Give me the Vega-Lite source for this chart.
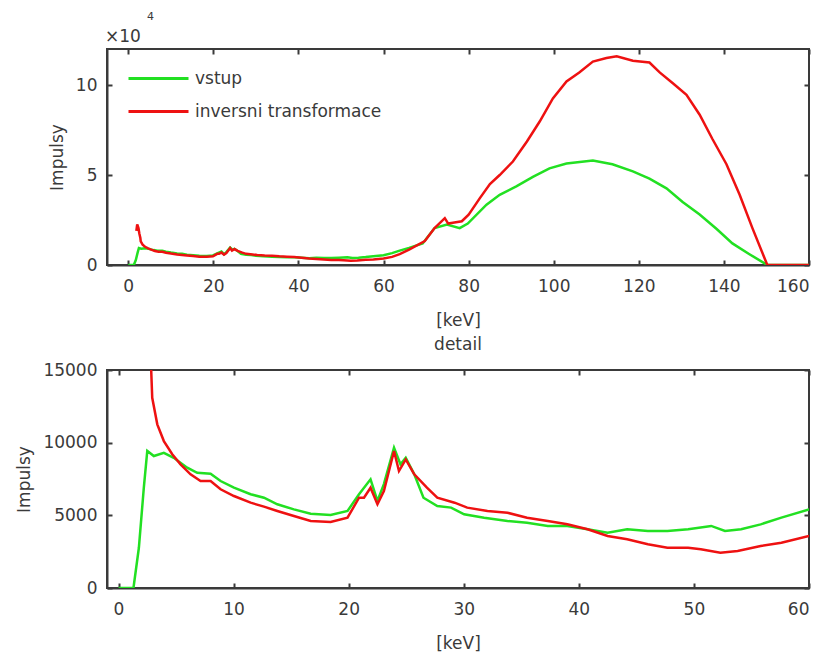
{
  "$schema": "https://vega.github.io/schema/vega-lite/v6.json",
  "background": "white",
  "padding": {"left": 14, "top": 10, "right": 0, "bottom": 0},
  "config": {
    "font": "DejaVu Sans",
    "view": {"stroke": "#3a3a3a", "strokeWidth": 2},
    "axis": {
      "labelFont": "DejaVu Sans", "labelFontSize": 17, "labelColor": "#3a3a3a",
      "titleFont": "DejaVu Sans", "titleFontSize": 17, "titleFontWeight": "normal", "titleColor": "#3a3a3a",
      "domainColor": "#3a3a3a", "domainWidth": 2, "tickColor": "#3a3a3a", "tickWidth": 2, "tickSize": -5,
      "grid": false
    },
    "axisX": {"labelPadding": 18, "titlePadding": 18},
    "axisY": {"labelPadding": 15, "titlePadding": 9},
    "title": {"font": "DejaVu Sans", "fontWeight": "normal", "color": "#3a3a3a"}
  },
  "datasets": {
    "spectra": [
      {"keV": 0, "series": "vstup", "counts": 0},
      {"keV": 1.3, "series": "vstup", "counts": 0},
      {"keV": 1.77, "series": "vstup", "counts": 2770},
      {"keV": 2.2, "series": "vstup", "counts": 6900},
      {"keV": 2.5, "series": "vstup", "counts": 9430},
      {"keV": 3.07, "series": "vstup", "counts": 9080},
      {"keV": 3.94, "series": "vstup", "counts": 9300},
      {"keV": 4.8, "series": "vstup", "counts": 8960},
      {"keV": 5.97, "series": "vstup", "counts": 8280},
      {"keV": 6.84, "series": "vstup", "counts": 7930},
      {"keV": 8.0, "series": "vstup", "counts": 7860},
      {"keV": 8.87, "series": "vstup", "counts": 7360},
      {"keV": 10.03, "series": "vstup", "counts": 6900},
      {"keV": 11.48, "series": "vstup", "counts": 6450},
      {"keV": 12.64, "series": "vstup", "counts": 6210},
      {"keV": 13.8, "series": "vstup", "counts": 5760},
      {"keV": 15.24, "series": "vstup", "counts": 5410},
      {"keV": 16.7, "series": "vstup", "counts": 5110},
      {"keV": 18.43, "series": "vstup", "counts": 5020},
      {"keV": 19.9, "series": "vstup", "counts": 5300},
      {"keV": 20.9, "series": "vstup", "counts": 6450},
      {"keV": 21.9, "series": "vstup", "counts": 7480},
      {"keV": 22.5, "series": "vstup", "counts": 5990},
      {"keV": 23.06, "series": "vstup", "counts": 7150},
      {"keV": 23.94, "series": "vstup", "counts": 9650},
      {"keV": 24.5, "series": "vstup", "counts": 8510},
      {"keV": 24.96, "series": "vstup", "counts": 8960},
      {"keV": 25.7, "series": "vstup", "counts": 7820},
      {"keV": 26.5, "series": "vstup", "counts": 6210},
      {"keV": 27.7, "series": "vstup", "counts": 5640},
      {"keV": 28.9, "series": "vstup", "counts": 5530},
      {"keV": 30.03, "series": "vstup", "counts": 5070},
      {"keV": 31.77, "series": "vstup", "counts": 4840},
      {"keV": 33.8, "series": "vstup", "counts": 4610},
      {"keV": 35.5, "series": "vstup", "counts": 4490},
      {"keV": 37.3, "series": "vstup", "counts": 4270},
      {"keV": 39.0, "series": "vstup", "counts": 4270},
      {"keV": 40.76, "series": "vstup", "counts": 4040},
      {"keV": 42.5, "series": "vstup", "counts": 3810},
      {"keV": 44.2, "series": "vstup", "counts": 4040},
      {"keV": 46.0, "series": "vstup", "counts": 3920},
      {"keV": 47.7, "series": "vstup", "counts": 3920},
      {"keV": 49.5, "series": "vstup", "counts": 4040},
      {"keV": 51.5, "series": "vstup", "counts": 4270},
      {"keV": 52.7, "series": "vstup", "counts": 3920},
      {"keV": 54.1, "series": "vstup", "counts": 4040},
      {"keV": 55.8, "series": "vstup", "counts": 4380},
      {"keV": 57.6, "series": "vstup", "counts": 4840},
      {"keV": 60.0, "series": "vstup", "counts": 5410},
      {"keV": 62.0, "series": "vstup", "counts": 6600},
      {"keV": 63.8, "series": "vstup", "counts": 8000},
      {"keV": 66.0, "series": "vstup", "counts": 9500},
      {"keV": 69.2, "series": "vstup", "counts": 12000},
      {"keV": 72.0, "series": "vstup", "counts": 20500},
      {"keV": 74.9, "series": "vstup", "counts": 22500},
      {"keV": 77.9, "series": "vstup", "counts": 20500},
      {"keV": 79.8, "series": "vstup", "counts": 23000},
      {"keV": 84.2, "series": "vstup", "counts": 33500},
      {"keV": 87.3, "series": "vstup", "counts": 39000},
      {"keV": 91.2, "series": "vstup", "counts": 43700},
      {"keV": 95.1, "series": "vstup", "counts": 49000},
      {"keV": 99.0, "series": "vstup", "counts": 53700},
      {"keV": 103.0, "series": "vstup", "counts": 56400},
      {"keV": 109.2, "series": "vstup", "counts": 58000},
      {"keV": 113.8, "series": "vstup", "counts": 56000},
      {"keV": 118.6, "series": "vstup", "counts": 52000},
      {"keV": 122.5, "series": "vstup", "counts": 48000},
      {"keV": 126.5, "series": "vstup", "counts": 42600},
      {"keV": 130.3, "series": "vstup", "counts": 35000},
      {"keV": 134.3, "series": "vstup", "counts": 28000},
      {"keV": 138.3, "series": "vstup", "counts": 20000},
      {"keV": 142.0, "series": "vstup", "counts": 12000},
      {"keV": 146.0, "series": "vstup", "counts": 6000},
      {"keV": 150.2, "series": "vstup", "counts": 0},
      {"keV": 160.0, "series": "vstup", "counts": 0},
      {"keV": 1.9, "series": "inversni transformace", "counts": 19000},
      {"keV": 2.1, "series": "inversni transformace", "counts": 22500},
      {"keV": 2.4, "series": "inversni transformace", "counts": 20500},
      {"keV": 2.6, "series": "inversni transformace", "counts": 17500},
      {"keV": 2.84, "series": "inversni transformace", "counts": 15000},
      {"keV": 2.93, "series": "inversni transformace", "counts": 13090},
      {"keV": 3.37, "series": "inversni transformace", "counts": 11260},
      {"keV": 3.94, "series": "inversni transformace", "counts": 10110},
      {"keV": 4.67, "series": "inversni transformace", "counts": 9200},
      {"keV": 5.39, "series": "inversni transformace", "counts": 8510},
      {"keV": 6.26, "series": "inversni transformace", "counts": 7820},
      {"keV": 7.13, "series": "inversni transformace", "counts": 7360},
      {"keV": 8.0, "series": "inversni transformace", "counts": 7360},
      {"keV": 8.87, "series": "inversni transformace", "counts": 6790},
      {"keV": 10.03, "series": "inversni transformace", "counts": 6330},
      {"keV": 11.48, "series": "inversni transformace", "counts": 5870},
      {"keV": 12.64, "series": "inversni transformace", "counts": 5600},
      {"keV": 13.8, "series": "inversni transformace", "counts": 5300},
      {"keV": 15.24, "series": "inversni transformace", "counts": 4950},
      {"keV": 16.7, "series": "inversni transformace", "counts": 4610},
      {"keV": 18.43, "series": "inversni transformace", "counts": 4540},
      {"keV": 19.9, "series": "inversni transformace", "counts": 4840},
      {"keV": 20.9, "series": "inversni transformace", "counts": 6210},
      {"keV": 21.33, "series": "inversni transformace", "counts": 6210},
      {"keV": 21.9, "series": "inversni transformace", "counts": 6900},
      {"keV": 22.5, "series": "inversni transformace", "counts": 5760},
      {"keV": 23.06, "series": "inversni transformace", "counts": 6670},
      {"keV": 23.94, "series": "inversni transformace", "counts": 9430},
      {"keV": 24.37, "series": "inversni transformace", "counts": 8050},
      {"keV": 24.96, "series": "inversni transformace", "counts": 8850},
      {"keV": 25.7, "series": "inversni transformace", "counts": 7820},
      {"keV": 26.8, "series": "inversni transformace", "counts": 6900},
      {"keV": 27.7, "series": "inversni transformace", "counts": 6210},
      {"keV": 29.2, "series": "inversni transformace", "counts": 5870},
      {"keV": 30.3, "series": "inversni transformace", "counts": 5530},
      {"keV": 32.06, "series": "inversni transformace", "counts": 5300},
      {"keV": 33.8, "series": "inversni transformace", "counts": 5180},
      {"keV": 35.5, "series": "inversni transformace", "counts": 4840},
      {"keV": 37.3, "series": "inversni transformace", "counts": 4610},
      {"keV": 39.0, "series": "inversni transformace", "counts": 4380},
      {"keV": 40.76, "series": "inversni transformace", "counts": 4040},
      {"keV": 42.5, "series": "inversni transformace", "counts": 3580},
      {"keV": 44.2, "series": "inversni transformace", "counts": 3350},
      {"keV": 46.0, "series": "inversni transformace", "counts": 3010},
      {"keV": 47.7, "series": "inversni transformace", "counts": 2770},
      {"keV": 49.5, "series": "inversni transformace", "counts": 2770},
      {"keV": 50.6, "series": "inversni transformace", "counts": 2660},
      {"keV": 52.3, "series": "inversni transformace", "counts": 2430},
      {"keV": 53.8, "series": "inversni transformace", "counts": 2550},
      {"keV": 55.8, "series": "inversni transformace", "counts": 2890},
      {"keV": 57.6, "series": "inversni transformace", "counts": 3120},
      {"keV": 60.0, "series": "inversni transformace", "counts": 3580},
      {"keV": 62.0, "series": "inversni transformace", "counts": 4500},
      {"keV": 63.8, "series": "inversni transformace", "counts": 6000},
      {"keV": 66.0, "series": "inversni transformace", "counts": 8500},
      {"keV": 69.7, "series": "inversni transformace", "counts": 13300},
      {"keV": 72.0, "series": "inversni transformace", "counts": 20500},
      {"keV": 74.4, "series": "inversni transformace", "counts": 26000},
      {"keV": 75.2, "series": "inversni transformace", "counts": 23000},
      {"keV": 76.3, "series": "inversni transformace", "counts": 23500},
      {"keV": 78.4, "series": "inversni transformace", "counts": 24300},
      {"keV": 80.0, "series": "inversni transformace", "counts": 28000},
      {"keV": 82.6, "series": "inversni transformace", "counts": 37000},
      {"keV": 85.0, "series": "inversni transformace", "counts": 45000},
      {"keV": 87.3, "series": "inversni transformace", "counts": 50000},
      {"keV": 90.4, "series": "inversni transformace", "counts": 57500},
      {"keV": 93.7, "series": "inversni transformace", "counts": 68600},
      {"keV": 96.7, "series": "inversni transformace", "counts": 79700},
      {"keV": 99.8, "series": "inversni transformace", "counts": 92500},
      {"keV": 103.0, "series": "inversni transformace", "counts": 102000},
      {"keV": 106.0, "series": "inversni transformace", "counts": 107000},
      {"keV": 109.2, "series": "inversni transformace", "counts": 113000},
      {"keV": 112.4, "series": "inversni transformace", "counts": 115000},
      {"keV": 114.8, "series": "inversni transformace", "counts": 116000},
      {"keV": 118.6, "series": "inversni transformace", "counts": 113500},
      {"keV": 122.5, "series": "inversni transformace", "counts": 112500},
      {"keV": 124.9, "series": "inversni transformace", "counts": 107000},
      {"keV": 128.0, "series": "inversni transformace", "counts": 101000},
      {"keV": 131.2, "series": "inversni transformace", "counts": 94600},
      {"keV": 134.3, "series": "inversni transformace", "counts": 83500},
      {"keV": 137.3, "series": "inversni transformace", "counts": 70000},
      {"keV": 140.6, "series": "inversni transformace", "counts": 56000},
      {"keV": 143.7, "series": "inversni transformace", "counts": 39000},
      {"keV": 146.7, "series": "inversni transformace", "counts": 20500},
      {"keV": 150.2, "series": "inversni transformace", "counts": 0},
      {"keV": 160.0, "series": "inversni transformace", "counts": 0}
    ]
  },
  "spacing": 6,
  "resolve": {"scale": {"color": "independent"}},
  "vconcat": [
    {
      "width": 702,
      "height": 216,
      "title": {"text": "\u200b\u00a0\u00a0\u00a0\u00a0\u00a0\u00a0\u00a0\u00a0\u00a0\u00a0\u00a0\u00a04", "subtitle": "×10", "anchor": "start", "frame": "group", "fontSize": 11, "subtitleFontSize": 17, "subtitleColor": "#3a3a3a", "subtitleFont": "DejaVu Sans", "subtitlePadding": 7, "offset": 3, "dx": -2},
      "data": {"name": "spectra"},
      "layer": [
        {
          "mark": {"type": "line", "strokeWidth": 2.5, "clip": true},
          "encoding": {
            "x": {"field": "keV", "type": "quantitative", "scale": {"domain": [-5, 160], "nice": false, "zero": false},
                  "axis": {"values": [0, 20, 40, 60, 80, 100, 120, 140, 160], "title": "[keV]"}},
            "y": {"field": "counts", "type": "quantitative", "scale": {"domain": [0, 120000], "nice": false},
                  "axis": {"values": [0, 50000, 100000], "labelExpr": "datum.value / 10000", "title": "Impulsy"}},
            "color": {"field": "series", "type": "nominal", "sort": null,
                      "scale": {"domain": ["vstup", "inversni transformace"], "range": ["#22e022", "#ee1111"]},
                      "legend": {"orient": "none", "legendX": 43, "legendY": 21, "title": null, "symbolType": "M-5,0H5", "symbolSize": 144, "symbolStrokeWidth": 3, "symbolFillColor": "transparent", "labelFontSize": 17, "labelColor": "#3a3a3a", "labelFont": "DejaVu Sans", "labelOffset": 28, "labelLimit": 0, "rowPadding": 15, "padding": 0}}
          }
        },
        {
          "mark": {"type": "line", "opacity": 0, "clip": true},
          "encoding": {
            "x": {"field": "keV", "type": "quantitative", "scale": {"domain": [-5, 160], "nice": false, "zero": false},
                  "axis": {"orient": "top", "values": [0, 20, 40, 60, 80, 100, 120, 140, 160], "labels": false, "title": null, "domain": false}},
            "y": {"field": "counts", "type": "quantitative", "scale": {"domain": [0, 120000], "nice": false},
                  "axis": {"orient": "right", "values": [0, 50000, 100000], "labels": false, "title": null, "domain": false}}
          }
        }
      ],
      "resolve": {"axis": {"x": "independent", "y": "independent"}}
    },
    {
      "width": 702,
      "height": 218,
      "title": {"text": "detail", "fontSize": 17, "frame": "group", "offset": 7},
      "data": {"name": "spectra"},
      "layer": [
        {
          "mark": {"type": "line", "strokeWidth": 2.5, "clip": true},
          "encoding": {
            "x": {"field": "keV", "type": "quantitative", "scale": {"domain": [-1, 60], "nice": false, "zero": false},
                  "axis": {"values": [0, 10, 20, 30, 40, 50, 60], "title": "[keV]"}},
            "y": {"field": "counts", "type": "quantitative", "scale": {"domain": [0, 15000], "nice": false},
                  "axis": {"values": [0, 5000, 10000, 15000], "format": "d", "title": "Impulsy"}},
            "color": {"field": "series", "type": "nominal", "sort": null,
                      "scale": {"domain": ["vstup", "inversni transformace"], "range": ["#22e022", "#ee1111"]},
                      "legend": null}
          }
        },
        {
          "mark": {"type": "line", "opacity": 0, "clip": true},
          "encoding": {
            "x": {"field": "keV", "type": "quantitative", "scale": {"domain": [-1, 60], "nice": false, "zero": false},
                  "axis": {"orient": "top", "values": [0, 10, 20, 30, 40, 50, 60], "labels": false, "title": null, "domain": false}},
            "y": {"field": "counts", "type": "quantitative", "scale": {"domain": [0, 15000], "nice": false},
                  "axis": {"orient": "right", "values": [0, 5000, 10000, 15000], "labels": false, "title": null, "domain": false}}
          }
        }
      ],
      "resolve": {"axis": {"x": "independent", "y": "independent"}}
    }
  ]
}
